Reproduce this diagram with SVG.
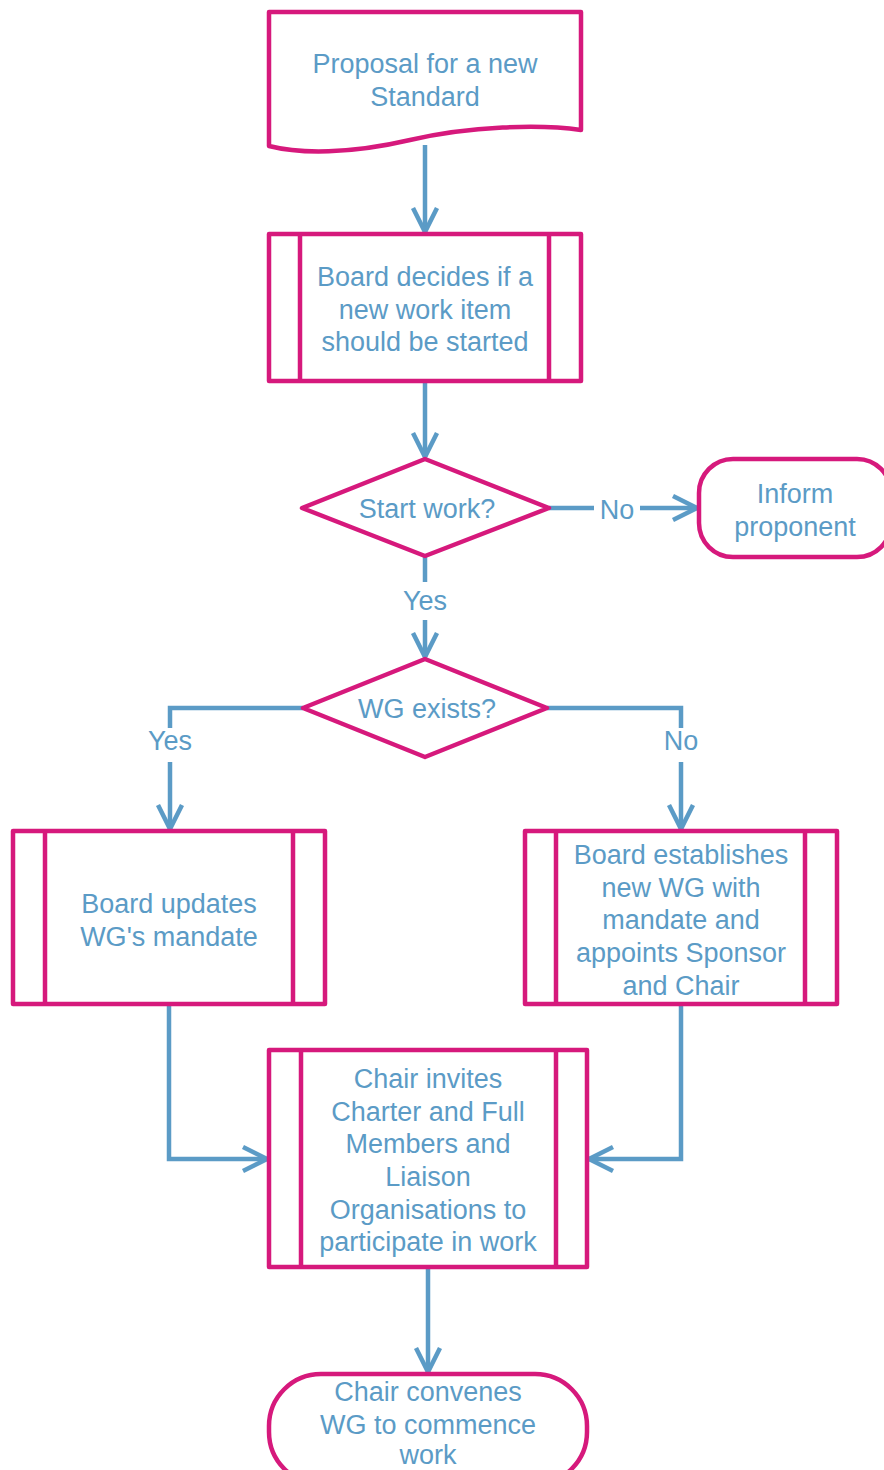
<svg xmlns="http://www.w3.org/2000/svg" width="884" height="1470" viewBox="0 0 884 1470">
<defs>
<marker id="arr" viewBox="0 0 30 30" refX="27" refY="15" markerWidth="30" markerHeight="30" markerUnits="userSpaceOnUse" orient="auto">
<path d="M3,3 L27,15 L3,27" fill="none" stroke="#5b9bc6" stroke-width="4.5"/>
</marker>
</defs>
<style>
.n{fill:#fff;stroke:#d6197c;stroke-width:4.5;stroke-linejoin:round}
.l{fill:none;stroke:#d6197c;stroke-width:4.5}
.t{font-family:"Liberation Sans",Arial,sans-serif;font-size:27px;fill:#5b9bc6;text-anchor:middle;dominant-baseline:central}
.c{fill:none;stroke:#5b9bc6;stroke-width:4.5}
</style>
<g id="connectors">
<path class="c" d="M425,145 V232" marker-end="url(#arr)"/>
<path class="c" d="M425,381 V457" marker-end="url(#arr)"/>
<path class="c" d="M549,508 H594"/>
<path class="c" d="M640,508 H697" marker-end="url(#arr)"/>
<text class="t" x="617" y="510">No</text>
<path class="c" d="M425,556 V582"/>
<path class="c" d="M425,620 V657" marker-end="url(#arr)"/>
<text class="t" x="425" y="601">Yes</text>
<path class="c" d="M303,708 H170 V728"/>
<path class="c" d="M170,762 V829" marker-end="url(#arr)"/>
<text class="t" x="170" y="741">Yes</text>
<path class="c" d="M547,708 H681 V728"/>
<path class="c" d="M681,762 V829" marker-end="url(#arr)"/>
<text class="t" x="681" y="741">No</text>
<path class="c" d="M169,1004 V1159 H267" marker-end="url(#arr)"/>
<path class="c" d="M681,1004 V1159 H589" marker-end="url(#arr)"/>
<path class="c" d="M428,1267 V1372" marker-end="url(#arr)"/>
</g>
<g id="n1">
<path class="n" d="M269,12 H581 V130 C540,124 470,126 410,140 C350,154 300,154 269,146 Z"/>
<text class="t" x="425" y="64">Proposal for a new</text>
<text class="t" x="425" y="97">Standard</text>
</g>
<g id="n2">
<rect class="n" x="269" y="234" width="312" height="147"/>
<path class="l" d="M300,234 V381 M549,234 V381"/>
<text class="t" x="425" y="277">Board decides if a</text>
<text class="t" x="425" y="310">new work item</text>
<text class="t" x="425" y="342">should be started</text>
</g>
<g id="n3">
<path class="n" d="M425,459 L549,508 L425,556 L302,508 Z"/>
<text class="t" x="427" y="509">Start work?</text>
</g>
<g id="n4">
<rect class="n" x="699" y="459" width="192" height="98" rx="34" ry="34"/>
<text class="t" x="795" y="494">Inform</text>
<text class="t" x="795" y="527">proponent</text>
</g>
<g id="n5">
<path class="n" d="M425,659 L547,708 L425,757 L303,708 Z"/>
<text class="t" x="427" y="709">WG exists?</text>
</g>
<g id="n6">
<rect class="n" x="13" y="831" width="312" height="173"/>
<path class="l" d="M45,831 V1004 M293,831 V1004"/>
<text class="t" x="169" y="904">Board updates</text>
<text class="t" x="169" y="937">WG's mandate</text>
</g>
<g id="n7">
<rect class="n" x="525" y="831" width="312" height="173"/>
<path class="l" d="M556,831 V1004 M805,831 V1004"/>
<text class="t" x="681" y="855">Board establishes</text>
<text class="t" x="681" y="888">new WG with</text>
<text class="t" x="681" y="920">mandate and</text>
<text class="t" x="681" y="953">appoints Sponsor</text>
<text class="t" x="681" y="986">and Chair</text>
</g>
<g id="n8">
<rect class="n" x="269" y="1050" width="318" height="217"/>
<path class="l" d="M301,1050 V1267 M556,1050 V1267"/>
<text class="t" x="428" y="1079">Chair invites</text>
<text class="t" x="428" y="1112">Charter and Full</text>
<text class="t" x="428" y="1144">Members and</text>
<text class="t" x="428" y="1177">Liaison</text>
<text class="t" x="428" y="1210">Organisations to</text>
<text class="t" x="428" y="1242">participate in work</text>
</g>
<g id="n9">
<rect class="n" x="269" y="1374" width="318" height="110" rx="52" ry="52"/>
<text class="t" x="428" y="1392">Chair convenes</text>
<text class="t" x="428" y="1425">WG to commence</text>
<text class="t" x="428" y="1455">work</text>
</g>
</svg>
